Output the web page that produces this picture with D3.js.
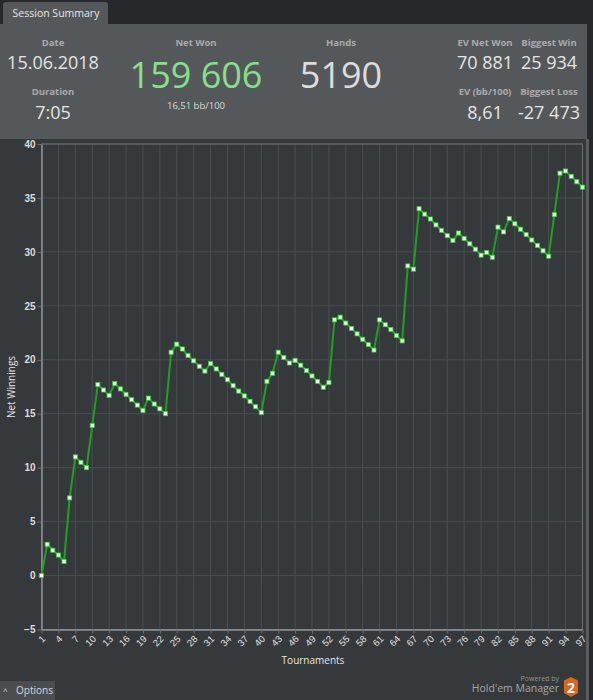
<!DOCTYPE html>
<html>
<head>
<meta charset="utf-8">
<script src="https://cdn.jsdelivr.net/npm/d3@7"></script>
<style>
  html, body { margin: 0; padding: 0; background: #2a2c2f; overflow: hidden; }
  svg { display: block; font-family: "Open Sans", "Noto Sans", sans-serif; }
</style>
</head>
<body>
<div id="chart"></div>
<script>
// net winnings (thousands) per tournament
const netWinnings = [
    0, 2.9, 2.35, 1.9, 1.3, 7.2, 11.0, 10.5, 10.0, 13.9,
    17.7, 17.2, 16.7, 17.8, 17.3, 16.8, 16.3, 15.8, 15.3, 16.45,
    15.9, 15.45, 15.0, 20.7, 21.45, 21.0, 20.4, 19.9, 19.4, 18.95,
    19.65, 19.15, 18.65, 18.15, 17.6, 17.1, 16.65, 16.15, 15.65, 15.1,
    18.0, 18.75, 20.7, 20.2, 19.7, 19.95, 19.5, 19.0, 18.5, 18.0,
    17.45, 17.9, 23.7, 23.95, 23.4, 22.9, 22.4, 21.9, 21.4, 20.9,
    23.7, 23.25, 22.8, 22.25, 21.75, 28.7, 28.4, 34.0, 33.5, 33.05,
    32.5, 32.0, 31.5, 31.05, 31.75, 31.25, 30.75, 30.25, 29.7, 29.95,
    29.5, 32.3, 31.85, 33.1, 32.6, 32.1, 31.6, 31.1, 30.6, 30.1,
    29.6, 33.45, 37.3, 37.5, 37.0, 36.5, 36.0
];
const xTickValues = [1, 4, 7, 10, 13, 16, 19, 22, 25, 28, 31, 34, 37, 40, 43, 46, 49,
    52, 55, 58, 61, 64, 67, 70, 73, 76, 79, 82, 85, 88, 91, 94, 97];
const yTickValues = [-5, 0, 5, 10, 15, 20, 25, 30, 35, 40];

// header stats
const leftLabels = ["Date", "Duration"];
const leftValues = ["15.06.2018", "7:05"];
const netWonValue = "159 606";
const netWonSub = "16,51 bb/100";
const handsValue = "5190";
const rightLabels = ["EV Net Won", "Biggest Win", "EV (bb/100)", "Biggest Loss"];
const rightValues = ["70 881", "25 934", "8,61", "-27 473"];

const width = 593;
const height = 700;
const margin = { top: 144, right: 10.5, bottom: 70.5, left: 41.5 };

const svg = d3.select("#chart")
    .append("svg")
    .attr("width", width)
    .attr("height", height);

// backgrounds
svg.append("rect").attr("x", 0).attr("y", 0).attr("width", width).attr("height", height).attr("fill", "#26282b");
svg.append("rect").attr("x", 0).attr("y", 24).attr("width", 587).attr("height", 115).attr("fill", "#55585b");
svg.append("rect").attr("x", 0).attr("y", 139).attr("width", 586).attr("height", 561).attr("fill", "#36393c");
svg.append("rect").attr("x", 586).attr("y", 139).attr("width", 3).attr("height", 561).attr("fill", "#5a5d60");

// tab
svg.append("path")
    .attr("d", "M3,24 L3,5 Q3,2 6,2 L105,2 Q108,2 108,5 L108,24 Z")
    .attr("fill", "#55585b");
svg.append("text")
    .attr("x", 56).attr("y", 17)
    .attr("text-anchor", "middle")
    .style("font-size", "10.5px")
    .style("fill", "#e6e6e6")
    .text("Session Summary");

// header stats
const labelStyle = sel => sel.style("font-size", "9.5px").style("font-weight", "bold").style("fill", "#a9abad").attr("text-anchor", "middle");
const valueStyle = sel => sel.style("font-size", "18px").style("fill", "#e4e4e4").attr("text-anchor", "middle");

leftLabels.forEach((l, i) => {
    svg.append("text").attr("x", 53).attr("y", 46 + i * 49).call(labelStyle).text(l);
    svg.append("text").attr("x", 53).attr("y", 69 + i * 50).call(valueStyle).text(leftValues[i]);
});

svg.append("text").attr("x", 196).attr("y", 46).call(labelStyle).text("Net Won");
svg.append("text").attr("x", 196).attr("y", 88)
    .attr("text-anchor", "middle")
    .style("font-size", "36px")
    .style("fill", "#86e08a")
    .text(netWonValue);
svg.append("text").attr("x", 196).attr("y", 109)
    .attr("text-anchor", "middle")
    .style("font-size", "9.5px")
    .style("fill", "#d8d8d8")
    .text(netWonSub);

svg.append("text").attr("x", 341).attr("y", 46).call(labelStyle).text("Hands");
svg.append("text").attr("x", 341).attr("y", 88)
    .attr("text-anchor", "middle")
    .style("font-size", "36px")
    .style("fill", "#dcdcdc")
    .text(handsValue);

const rightX = [485, 549];
rightLabels.forEach((l, i) => {
    const cx = rightX[i % 2];
    const row = Math.floor(i / 2);
    svg.append("text").attr("x", cx).attr("y", 46 + row * 49).call(labelStyle).text(l);
    svg.append("text").attr("x", cx).attr("y", 69 + row * 50).call(valueStyle).text(rightValues[i]);
});

// chart
const innerWidth = width - margin.left - margin.right - 0.5;
const innerHeight = height - margin.top - margin.bottom;

const g = svg.append("g")
    .attr("transform", `translate(${margin.left}, ${margin.top})`);

const xScale = d3.scaleLinear()
    .domain([1, netWinnings.length])
    .range([0, 541]);

const yScale = d3.scaleLinear()
    .domain([-5, 40])
    .range([innerHeight, 0]);

// grid
g.append("g")
    .selectAll("line")
    .data(xTickValues.slice(1))
    .enter()
    .append("line")
    .attr("x1", d => xScale(d)).attr("x2", d => xScale(d))
    .attr("y1", 0).attr("y2", innerHeight)
    .attr("stroke", "#4a4d51");

g.append("g")
    .selectAll("line")
    .data(yTickValues.slice(1))
    .enter()
    .append("line")
    .attr("x1", 0).attr("x2", 541)
    .attr("y1", d => yScale(d)).attr("y2", d => yScale(d))
    .attr("stroke", "#4a4d51");

// frame
g.append("rect")
    .attr("x", 0).attr("y", 0)
    .attr("width", 541).attr("height", innerHeight)
    .attr("fill", "none")
    .attr("stroke", "#6c6f72");

const xAxis = d3.axisBottom(xScale).tickValues(xTickValues).tickSize(4).tickSizeOuter(0);
const yAxis = d3.axisLeft(yScale).tickValues(yTickValues).tickSize(4).tickSizeOuter(0).tickPadding(2);

const xAxisG = g.append("g")
    .attr("class", "axis-x")
    .attr("transform", `translate(0, ${innerHeight})`)
    .call(xAxis);
xAxisG.select(".domain").attr("stroke", "#8e9194").attr("stroke-width", 1.5);
xAxisG.selectAll(".tick line").attr("stroke", "#6c6f72");
xAxisG.selectAll(".tick text")
    .attr("x", 0).attr("y", 0).attr("dy", 0)
    .attr("text-anchor", "end")
    .attr("transform", "translate(4, 10) rotate(-45)")
    .style("font-size", "9.5px")
    .style("fill", "#e0e0e0");

const yAxisG = g.append("g")
    .attr("class", "axis-y")
    .call(yAxis);
yAxisG.select(".domain").attr("stroke", "#8e9194").attr("stroke-width", 1.5);
yAxisG.selectAll(".tick line").attr("stroke", "#6c6f72");
yAxisG.selectAll(".tick text")
    .style("font-size", "10px")
    .style("font-weight", "bold")
    .style("fill", "#dcdcdc");

// line
const line = d3.line()
    .x((d, i) => xScale(i + 1))
    .y(d => yScale(d));

g.append("path")
    .datum(netWinnings)
    .attr("fill", "none")
    .attr("stroke", "#20a023")
    .attr("stroke-width", 2)
    .attr("d", line);

g.selectAll(".pt")
    .data(netWinnings)
    .enter()
    .append("rect")
    .attr("class", "pt")
    .attr("x", (d, i) => xScale(i + 1) - 2)
    .attr("y", d => yScale(d) - 2)
    .attr("width", 4)
    .attr("height", 4)
    .attr("fill", "#f4fff4")
    .attr("stroke", "#3fd43f")
    .attr("stroke-width", 0.8);

// axis labels
svg.append("text")
    .attr("x", 313).attr("y", 664)
    .attr("text-anchor", "middle")
    .style("font-size", "10px")
    .style("fill", "#e6e6e6")
    .text("Tournaments");

svg.append("text")
    .attr("transform", "rotate(-90)")
    .attr("x", -387).attr("y", 15)
    .attr("text-anchor", "middle")
    .style("font-size", "10px")
    .style("fill", "#e6e6e6")
    .text("Net Winnings");

// footer
svg.append("rect").attr("x", 0).attr("y", 681).attr("width", 55).attr("height", 19).attr("fill", "#4b4e51");
svg.append("text").attr("x", 3).attr("y", 694).style("font-size", "8px").style("fill", "#d8d8d8").text("^");
svg.append("text").attr("x", 16).attr("y", 694).style("font-size", "10px").style("fill", "#d8d8d8").text("Options");

svg.append("text")
    .attr("x", 559).attr("y", 681)
    .attr("text-anchor", "end")
    .style("font-size", "7px")
    .style("fill", "#909396")
    .text("Powered by");
svg.append("text")
    .attr("x", 559).attr("y", 692)
    .attr("text-anchor", "end")
    .style("font-size", "10.5px")
    .style("fill", "#a4a7aa")
    .text("Hold'em Manager");

const hexPts = [[571, 677], [578, 680.5], [578, 693], [571, 697], [564, 693], [564, 680.5]];
svg.append("polygon")
    .attr("points", hexPts.map(p => p.join(",")).join(" "))
    .attr("fill", "#d9661f");
svg.append("text")
    .attr("x", 571).attr("y", 692.5)
    .attr("text-anchor", "middle")
    .style("font-size", "14px")
    .style("font-weight", "bold")
    .style("fill", "#ffffff")
    .text("2");
</script>
</body>
</html>
